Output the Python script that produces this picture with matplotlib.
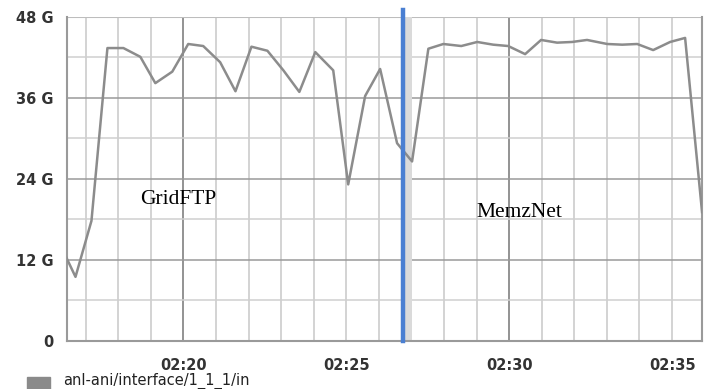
import matplotlib.pyplot as plt

# throughput samples (minutes past 02:00, Gbps)
minutes = [16.20, 16.69, 17.18, 17.67, 18.16, 18.68, 19.14, 19.66, 20.15, 20.61,
           21.13, 21.60, 22.09, 22.58, 23.07, 23.56, 24.05, 24.60, 25.06, 25.58,
           26.04, 26.56, 27.02, 27.52, 27.98, 28.53, 29.02, 29.51, 29.97, 30.49,
           30.98, 31.47, 31.93, 32.39, 33.01, 33.47, 33.93, 34.42, 34.94, 35.40,
           35.92]
gbps = [14.5, 9.5, 17.8, 43.4, 43.4, 42.1, 38.2, 39.9, 44.0, 43.7,
        41.3, 37.0, 43.6, 43.0, 40.1, 36.9, 42.8, 40.1, 23.2, 36.3,
        40.3, 29.3, 26.6, 43.3, 44.0, 43.7, 44.3, 43.9, 43.7, 42.5,
        44.6, 44.2, 44.3, 44.6, 44.0, 43.9, 44.0, 43.1, 44.3, 44.9,
        19.1]

y_ticks = [0, 12, 24, 36, 48]
y_labels = ["0", "12 G", "24 G", "36 G", "48 G"]
x_ticks = [20, 25, 30, 35]
x_labels = ["02:20", "02:25", "02:30", "02:35"]

switch_at = 26.75          # GridFTP -> MemzNet switch (blue marker)
series_name = "anl-ani/interface/1_1_1/in"

fig = plt.figure(figsize=(7.07, 3.89), dpi=100)
ax = fig.add_axes([0.0948, 0.1234, 0.8982, 0.8329])
ax.set_xlim(16.43, 35.92)
ax.set_ylim(0, 48)

# grid: light every minute / 6G, darker every 10 min / 12G
for m in range(17, 36):
    c = '#8a8a8a' if m % 10 == 0 else '#d0d0d0'
    ax.axvline(m, color=c, linewidth=1.3, zorder=1)
for g in range(6, 48, 6):
    c = '#9a9a9a' if g % 12 == 0 else '#cfcfcf'
    ax.axhline(g, color=c, linewidth=1.1, zorder=1)
ax.axhline(48, color='#bdbdbd', linewidth=1.5, zorder=1)

ax.plot(minutes, gbps, color='#8c8c8c', linewidth=1.8, zorder=3)

# shading + blue marker where the transfer tool was switched
ax.axvspan(switch_at + 0.03, switch_at + 0.27, color='#dadada', zorder=2, linewidth=0)
ax.axvline(switch_at, ymin=0, ymax=1.022, color='#4a7fd2', linewidth=3.2,
           zorder=4, clip_on=False)

ax.text(18.68, 20.3, "GridFTP", family='Liberation Serif', fontsize=15.5,
        ha='left', va='baseline', zorder=5)
ax.text(28.99, 18.4, "MemzNet", family='Liberation Serif', fontsize=15.5,
        ha='left', va='baseline', zorder=5)

ax.set_yticks(y_ticks)
ax.set_yticklabels(y_labels)
ax.set_xticks(x_ticks)
ax.set_xticklabels(x_labels)
ax.tick_params(length=0, labelsize=10.5, labelcolor='#333333')
ax.tick_params(axis='y', pad=10)
ax.tick_params(axis='x', pad=12)
for lbl in ax.get_xticklabels() + ax.get_yticklabels():
    lbl.set_fontweight('bold')

for side in ['left', 'bottom', 'right']:
    ax.spines[side].set_color('#9a9a9a')
    ax.spines[side].set_linewidth(1.5)
ax.spines['top'].set_visible(False)

# legend swatch at the very bottom
fig.patches.append(plt.Rectangle((27 / 707, 0), 23 / 707, 12 / 389,
                                 transform=fig.transFigure, color='#8a8a8a'))
fig.text(63 / 707, 8 / 389, series_name, fontsize=10.5, color='#222222',
         ha='left', va='center')

plt.savefig('out.png', dpi=100)
